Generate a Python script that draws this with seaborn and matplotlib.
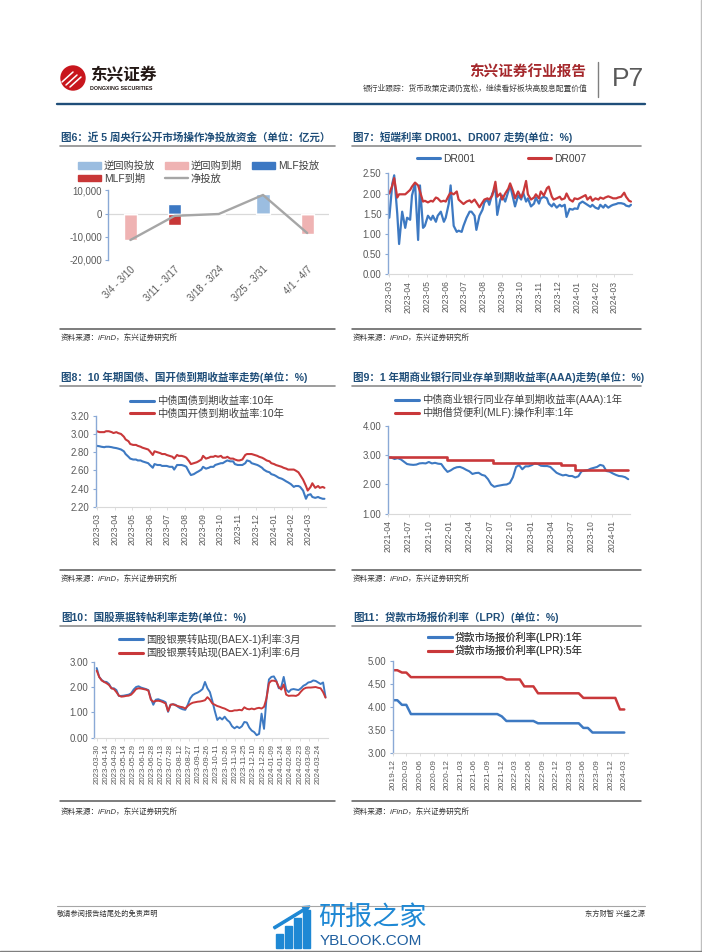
import matplotlib
matplotlib.use("Agg")
import matplotlib.pyplot as plt
import matplotlib.dates as mdates
import matplotlib.ticker as mticker
from matplotlib.lines import Line2D
from matplotlib.patches import Patch, Circle, Rectangle, FancyArrow
import seaborn as sns
import numpy as np
import pandas as pd


# ── 图6 ──────────────────────────────────────────────────────────────────
WEEKS = ["3/4 - 3/10", "3/11 - 3/17", "3/18 - 3/24", "3/25 - 3/31", "4/1 - 4/7"]
RR_INJECT = [0, 0, 0, 8300, 0]            # 逆回购投放
RR_EXPIRE = [-11600, 0, 0, 0, -8700]      # 逆回购到期
MLF_INJECT = [0, 4000, 0, 0, 0]           # MLF投放
MLF_EXPIRE = [0, -5000, 0, 0, 0]          # MLF到期
NET_INJECT = [-11400, -1000, -200, 8000, -8400]

# ── 图7 DR001 / DR007 (every 3rd business day) ──────────────────────────
DR001 = [1.40, 2.25, 2.45, 1.50, 0.75, 1.55, 1.15, 1.40, 1.35, 1.95,
         2.25, 0.85, 2.20, 1.15, 1.20, 1.45, 1.35, 1.45, 1.30, 1.45,
         1.55, 1.30, 1.40, 1.75, 2.20, 1.20, 1.05, 1.08, 1.05, 1.20,
         1.40, 1.55, 1.55, 1.45, 1.10, 1.45, 1.60, 1.78, 1.85, 1.72,
         2.00, 2.12, 1.47, 1.85, 1.95, 1.80, 2.05, 2.20, 1.88, 1.68,
         1.95, 1.85, 2.03, 1.80, 1.88, 1.68, 1.75, 1.90, 1.75, 1.88,
         1.92, 1.88, 1.75, 1.68, 1.75, 1.65, 1.72, 1.68, 1.72, 1.42,
         1.62, 1.60, 1.63, 1.62, 1.75, 1.80, 1.75, 1.72, 1.67, 1.72,
         1.65, 1.62, 1.72, 1.65, 1.72, 1.65, 1.70, 1.72, 1.74, 1.76,
         1.76, 1.74, 1.70, 1.68, 1.72]
DR007 = [2.00, 2.20, 2.38, 1.90, 1.98, 1.98, 1.98, 2.02, 2.09, 2.17,
         2.27, 2.20, 2.05, 1.80, 1.82, 1.78, 1.82, 1.80, 1.90, 1.88,
         1.80, 1.82, 1.80, 1.95, 2.02, 1.98, 2.05, 1.85, 1.78, 1.74,
         1.80, 1.83, 1.78, 1.85, 1.78, 1.66, 1.78, 1.85, 1.88, 1.85,
         1.95, 2.29, 1.92, 2.00, 1.85, 2.00, 2.12, 2.25, 2.05, 1.88,
         2.05, 1.90, 2.00, 2.31, 1.98, 1.85, 1.90, 1.98, 1.88, 2.05,
         1.95, 2.13, 2.17, 1.92, 1.85, 1.88, 1.92, 1.85, 1.88, 2.00,
         1.85, 1.80, 1.88, 1.86, 1.88, 1.92, 1.96, 1.85, 1.92, 1.82,
         1.88, 1.85, 1.90, 1.87, 1.90, 1.93, 1.90, 1.88, 1.88, 1.90,
         1.92, 2.02, 1.92, 1.82, 1.80]
DR_DATES = pd.bdate_range("2023-03-01", periods=len(DR001), freq="3B")

# ── 图8 10年期国债 / 国开债 ────────────────────────────────────────────
CGB10 = [2.87, 2.865, 2.86, 2.855, 2.86, 2.86, 2.855, 2.85, 2.845, 2.84,
         2.83, 2.81, 2.78, 2.75, 2.73, 2.72, 2.72, 2.71, 2.71, 2.70,
         2.69, 2.68, 2.66, 2.63, 2.67, 2.66, 2.66, 2.65, 2.65, 2.65,
         2.64, 2.64, 2.61, 2.66, 2.66, 2.66, 2.65, 2.64, 2.58, 2.55,
         2.56, 2.58, 2.59, 2.61, 2.64, 2.62, 2.63, 2.64, 2.64, 2.66,
         2.67, 2.68, 2.68, 2.70, 2.71, 2.70, 2.70, 2.67, 2.66, 2.66,
         2.66, 2.68, 2.71, 2.70, 2.68, 2.67, 2.66, 2.65, 2.63, 2.61,
         2.59, 2.58, 2.56, 2.55, 2.54, 2.52, 2.51, 2.50, 2.48, 2.47,
         2.45, 2.42, 2.43, 2.43, 2.42, 2.38, 2.29, 2.33, 2.34, 2.31,
         2.30, 2.31, 2.30, 2.29, 2.29]
CDB10 = [3.03, 3.02, 3.02, 3.02, 3.03, 3.03, 3.02, 3.01, 3.02, 3.01,
         3.00, 2.97, 2.94, 2.92, 2.89, 2.88, 2.88, 2.87, 2.86, 2.85,
         2.84, 2.83, 2.81, 2.77, 2.81, 2.80, 2.79, 2.78, 2.78, 2.77,
         2.76, 2.75, 2.73, 2.77, 2.76, 2.76, 2.75, 2.74, 2.70, 2.67,
         2.68, 2.69, 2.70, 2.72, 2.76, 2.73, 2.74, 2.75, 2.75, 2.76,
         2.75, 2.76, 2.74, 2.74, 2.75, 2.73, 2.73, 2.72, 2.71, 2.71,
         2.72, 2.77, 2.78, 2.78, 2.78, 2.77, 2.76, 2.75, 2.74, 2.73,
         2.71, 2.70, 2.68, 2.67, 2.66, 2.65, 2.64, 2.63, 2.62, 2.61,
         2.61, 2.61, 2.60, 2.58, 2.55, 2.50, 2.43, 2.38, 2.42, 2.46,
         2.41, 2.43, 2.41, 2.42, 2.41]
BOND_DATES = pd.bdate_range("2023-03-01", periods=len(CGB10), freq="3B")

# ── 图9 同业存单 / MLF ─────────────────────────────────────────────────
CD_1Y = [2.93, 2.92, 2.87, 2.90, 2.86, 2.78, 2.70, 2.68, 2.67, 2.68,
         2.72, 2.73, 2.72, 2.77, 2.72, 2.74, 2.71, 2.70, 2.55, 2.43,
         2.48, 2.55, 2.59, 2.60, 2.56, 2.50, 2.45, 2.36, 2.39, 2.40,
         2.33, 2.30, 2.18, 2.00, 1.92, 1.95, 1.97, 1.99, 2.00, 2.05,
         2.25, 2.60, 2.66, 2.52, 2.62, 2.62, 2.66, 2.72, 2.70, 2.64,
         2.63, 2.63, 2.60, 2.50, 2.40, 2.35, 2.31, 2.33, 2.29, 2.29,
         2.24, 2.28, 2.45, 2.47, 2.49, 2.54, 2.57, 2.60, 2.67, 2.64,
         2.46, 2.44, 2.38, 2.33, 2.29, 2.28, 2.25, 2.18]
CD_DATES = pd.date_range("2021-04-01", periods=len(CD_1Y), freq="14D")
MLF_DATES = pd.to_datetime(["2021-04-01", "2021-12-20", "2022-07-16",
                            "2023-05-19", "2023-07-19", "2024-03-14"])
MLF_RATE = [2.95, 2.85, 2.75, 2.65, 2.50, 2.50]

# ── 图10 国股银票转贴现 ────────────────────────────────────────────────
BAEX_3M = [2.75, 2.40, 2.28, 2.21, 2.20, 2.12, 1.95, 1.95, 1.88, 1.65,
           1.65, 1.66, 1.68, 1.70, 1.75, 1.90, 2.00, 2.03, 1.98, 1.95,
           1.92, 1.88, 1.55, 1.30, 1.50, 1.52, 1.48, 1.45, 1.40, 1.02,
           1.30, 1.32, 1.30, 1.22, 1.16, 1.12, 1.10, 1.30, 1.55, 1.68,
           1.74, 1.78, 1.84, 1.92, 2.20, 1.95, 1.80, 1.45, 1.05, 0.70,
           0.80, 0.72, 0.83, 0.70, 0.62, 0.45, 0.37, 0.44, 0.38, 0.45,
           0.62, 0.60, 0.40, 0.28, 0.22, 0.10, 0.15, 0.95, 0.35, 1.55,
           2.30, 2.40, 2.42, 2.25, 1.95, 2.00, 2.40, 1.90, 1.80, 1.90,
           1.92, 1.90, 1.88, 1.95, 2.05, 2.10, 2.18, 2.20, 2.26, 2.24,
           2.18, 2.12, 2.18, 1.60]
BAEX_6M = [2.65, 2.40, 2.26, 2.20, 2.15, 2.08, 1.95, 1.92, 1.80, 1.66,
           1.62, 1.63, 1.65, 1.66, 1.70, 1.80, 1.92, 1.95, 1.94, 1.92,
           1.90, 1.86, 1.50, 1.42, 1.45, 1.46, 1.44, 1.40, 1.35, 1.05,
           1.30, 1.32, 1.28, 1.25, 1.22, 1.20, 1.15, 1.25, 1.33, 1.38,
           1.40, 1.42, 1.43, 1.45, 1.48, 1.60, 1.50, 1.35, 1.30, 1.25,
           1.22, 1.18, 1.15, 1.10, 1.05, 1.05, 1.08, 1.08, 1.10, 1.08,
           1.20, 1.14, 1.12, 1.15, 1.12, 1.16, 1.18, 1.15, 1.22, 1.55,
           2.15, 2.25, 2.25, 2.22, 2.00, 1.90, 2.10, 1.70, 1.65, 1.66,
           1.66, 1.65, 1.70, 1.82, 1.92, 1.97, 1.98, 1.98, 1.99, 2.00,
           1.97, 1.95, 1.80, 1.58]
BAEX_DATES = pd.date_range("2023-03-30", periods=len(BAEX_3M), freq="4D")
BAEX_TICKS = pd.date_range("2023-03-30", periods=25, freq="15D")

# ── 图11 LPR (monthly, 2019-12 .. 2024-03) ─────────────────────────────
LPR_1Y = [4.15, 4.15, 4.05, 4.05, 3.85, 3.85, 3.85, 3.85, 3.85, 3.85,
          3.85, 3.85, 3.85, 3.85, 3.85, 3.85, 3.85, 3.85, 3.85, 3.85,
          3.85, 3.85, 3.85, 3.85, 3.80, 3.70, 3.70, 3.70, 3.70, 3.70,
          3.70, 3.70, 3.65, 3.65, 3.65, 3.65, 3.65, 3.65, 3.65, 3.65,
          3.65, 3.65, 3.55, 3.55, 3.45, 3.45, 3.45, 3.45, 3.45, 3.45,
          3.45, 3.45]
LPR_5Y = [4.80, 4.80, 4.75, 4.75, 4.65, 4.65, 4.65, 4.65, 4.65, 4.65,
          4.65, 4.65, 4.65, 4.65, 4.65, 4.65, 4.65, 4.65, 4.65, 4.65,
          4.65, 4.65, 4.65, 4.65, 4.65, 4.60, 4.60, 4.60, 4.60, 4.45,
          4.45, 4.45, 4.30, 4.30, 4.30, 4.30, 4.30, 4.30, 4.30, 4.30,
          4.30, 4.30, 4.20, 4.20, 4.20, 4.20, 4.20, 4.20, 4.20, 4.20,
          3.95, 3.95]
LPR_DATES = pd.date_range("2019-12-01", periods=len(LPR_1Y), freq="MS")


W, H = 702, 952
BLUE = "#3d79c2"
RED = "#c9383a"
SPINE = "#8aa9d6"
TXT = "#595959"
TITLE_C = "#1f4e79"
SOURCE = "资料来源：iFinD，东兴证券研究所"


def px_axes(fig, left, top, right, bottom):
    """Axes placed by page pixel box (y measured from the top)."""
    return fig.add_axes([left / W, 1 - bottom / H, (right - left) / W, (bottom - top) / H])


def style_axes(ax, ylim, ystep, fmt="%.2f", xlabelsize=6.2):
    ax.set_ylim(*ylim)
    ax.set_yticks(np.arange(ylim[0], ylim[1] + 1e-9, ystep))
    ax.yaxis.set_major_formatter(mticker.FormatStrFormatter(fmt))
    for s in ["top", "right"]:
        ax.spines[s].set_visible(False)
    ax.spines["left"].set_color(SPINE)
    ax.spines["left"].set_linewidth(1.0)
    ax.spines["bottom"].set_color("#d9d9d9")
    ax.spines["bottom"].set_linewidth(0.8)
    ax.tick_params(axis="y", length=2.5, width=0.8, color=SPINE,
                   labelsize=6.9, labelcolor=TXT, pad=2, left=True)
    ax.tick_params(axis="x", length=2.5, width=0.6, color="#d9d9d9",
                   labelsize=xlabelsize, labelcolor=TXT, pad=2,
                   labelrotation=90, bottom=True)
    ax.set_xlabel("")
    ax.set_ylabel("")
    ax.patch.set_alpha(0)


def add_legend(page, handles, labels, x, top, ncol=1, colsp=1.0, fs=7.4, hl=2.3, hh=0.7):
    leg = page.legend(handles, labels, loc="upper left", bbox_to_anchor=(x, top),
                      bbox_transform=page.transData, ncol=ncol, frameon=False,
                      fontsize=fs, handlelength=hl, handleheight=hh,
                      handletextpad=0.3, columnspacing=colsp, labelspacing=0.22,
                      borderpad=0, borderaxespad=0, labelcolor="#404040")
    page.add_artist(leg)


def panel_frame(page, x0, x1, title, y_title, y_rule, y_src_rule, y_src):
    page.text(x0 + 1, y_title, title, fontsize=7.6, fontweight="bold",
              color=TITLE_C, va="center")
    page.plot([x0, x1], [y_rule, y_rule], color="#8c8c8c", lw=1.2)
    page.plot([x0, x1], [y_src_rule, y_src_rule], color="#595959", lw=1.1)
    page.text(x0 + 1, y_src, SOURCE, fontsize=5.5, style="italic",
              color="#333333", va="center")


def line(color, lw=1.8):
    return Line2D([0], [0], color=color, lw=lw)


sns.set_theme(style="white")
plt.rcParams["font.family"] = ["Liberation Sans", "Noto Sans CJK SC", "DejaVu Sans"]
plt.rcParams["axes.unicode_minus"] = False

fig = plt.figure(figsize=(W / 100, H / 100), dpi=100)
fig.patch.set_facecolor("white")

page = fig.add_axes([0, 0, 1, 1])
page.set_xlim(0, W)
page.set_ylim(H, 0)
page.set_axis_off()

# ── Header ───────────────────────────────────────────────────────────────
page.add_patch(Circle((73, 78), 12, color="#c8161d"))
for dx, dy in [(-6, 4), (-2, 7), (2, 9)]:
    page.plot([73 + dx - 5, 73 + dx + 6], [78 + dy, 78 + dy - 10], color="white", lw=1.1)
page.text(90, 75, "东兴证券", fontsize=12, fontweight="heavy", color="#231815", va="center")
page.text(90, 89, "DONGXING SECURITIES", fontsize=3.8, fontweight="bold",
          color="#231815", va="center")
page.text(586, 73, "东兴证券行业报告", fontsize=10.5, fontweight="bold",
          color="#a5282c", ha="right", va="center")
page.text(587, 89, "银行业跟踪：货币政策定调仍宽松，继续看好板块高股息配置价值",
          fontsize=5.6, color="#404040", ha="right", va="center")
page.plot([598, 598], [62, 97], color="#7f7f7f", lw=1.0)
page.text(612, 79, "P7", fontsize=19, color="#595959", va="center")
page.plot([57, 645], [104, 104], color=TITLE_C, lw=1.7)

# ── Panel frames ─────────────────────────────────────────────────────────
panel_frame(page, 60, 335, "图6：近 5 周央行公开市场操作净投放资金（单位：亿元）", 137, 146, 329, 338)
panel_frame(page, 352, 641, "图7：短端利率 DR001、DR007 走势(单位：%)", 137, 146, 329, 338)
panel_frame(page, 60, 335, "图8：10 年期国债、国开债到期收益率走势(单位：%)", 377, 386, 570, 579)
panel_frame(page, 352, 641, "图9：1 年期商业银行同业存单到期收益率(AAA)走势(单位：%)", 377, 386, 570, 579)
panel_frame(page, 60, 335, "图10：国股票据转帖利率走势(单位：%)", 617, 626, 801, 812)
panel_frame(page, 352, 641, "图11：贷款市场报价利率（LPR）(单位：%)", 617, 626, 801, 812)

# ── 图6 bars + net line ─────────────────────────────────────────────────
C_RR_IN, C_RR_OUT, C_MLF_IN, C_MLF_OUT, C_NET = "#9bbde0", "#efb3b3", "#3c78c3", "#c83737", "#a6a6a6"
ax6 = px_axes(fig, 108.3, 190.3, 329.3, 260)
pos = np.arange(len(WEEKS))
for vals, c in [(RR_INJECT, C_RR_IN), (RR_EXPIRE, C_RR_OUT),
                (MLF_INJECT, C_MLF_IN), (MLF_EXPIRE, C_MLF_OUT)]:
    sns.barplot(x=pos, y=vals, color=c, width=0.3, saturation=1, ax=ax6)
ax6.axhline(0, color="#d9d9d9", lw=0.9, zorder=0.5)
sns.lineplot(x=pos, y=NET_INJECT, color=C_NET, lw=1.7, ax=ax6)
ax6.set_xlim(-0.5, 4.5)
style_axes(ax6, (-20000, 10000), 10000)
ax6.yaxis.set_major_formatter(mticker.FuncFormatter(lambda v, p: f"{v:,.0f}"))
ax6.spines["bottom"].set_visible(False)
ax6.set_xticks(pos)
ax6.set_xticklabels(WEEKS, rotation=45, ha="right", rotation_mode="anchor", fontsize=6.9)
ax6.tick_params(axis="x", length=0, pad=3, labelrotation=45)
h6 = [Patch(color=C_RR_IN), Patch(color=C_MLF_OUT), Patch(color=C_RR_OUT),
      line(C_NET, 1.7), Patch(color=C_MLF_IN)]
l6 = ["逆回购投放", "MLF到期", "逆回购到期", "净投放", "MLF投放"]
add_legend(page, h6, l6, 78, 161, ncol=3, colsp=1.0, hl=2.2, hh=0.55)

# ── 图7 DR001 / DR007 ───────────────────────────────────────────────────
ax7 = px_axes(fig, 387.7, 173.3, 632, 274.3)
sns.lineplot(x=DR_DATES, y=DR001, color=BLUE, lw=1.6, ax=ax7)
sns.lineplot(x=DR_DATES, y=DR007, color=RED, lw=1.6, ax=ax7)
ax7.set_xlim(pd.Timestamp("2023-02-26 10:00"), pd.Timestamp("2024-03-30 17:00"))
style_axes(ax7, (0, 2.5), 0.5)
ax7.xaxis.set_major_locator(mdates.MonthLocator())
ax7.xaxis.set_major_formatter(mdates.DateFormatter("%Y-%m"))
add_legend(page, [line(BLUE, 2.2), line(RED, 2.2)], ["DR001", "DR007"], 416.7, 154,
           ncol=2, colsp=5.1)

# ── 图8 10Y yields ──────────────────────────────────────────────────────
ax8 = px_axes(fig, 95.7, 415.7, 326, 507)
sns.lineplot(x=BOND_DATES, y=CGB10, color=BLUE, lw=1.5, ax=ax8)
sns.lineplot(x=BOND_DATES, y=CDB10, color=RED, lw=1.5, ax=ax8)
ax8.set_xlim(pd.Timestamp("2023-02-27 06:00"), pd.Timestamp("2024-03-31 16:00"))
style_axes(ax8, (2.2, 3.2), 0.2)
ax8.xaxis.set_major_locator(mdates.MonthLocator())
ax8.xaxis.set_major_formatter(mdates.DateFormatter("%Y-%m"))
add_legend(page, [line(BLUE, 2.2), line(RED, 2.2)],
           ["中债国债到期收益率:10年", "中债国开债到期收益率:10年"], 130, 396)

# ── 图9 CD / MLF ────────────────────────────────────────────────────────
ax9 = px_axes(fig, 387.7, 426, 630, 513.7)
sns.lineplot(x=CD_DATES, y=CD_1Y, color=BLUE, lw=1.5, ax=ax9)
sns.lineplot(x=MLF_DATES, y=MLF_RATE, color=RED, lw=1.9, drawstyle="steps-post", ax=ax9)
ax9.set_xlim(pd.Timestamp("2021-03-29 07:00"), pd.Timestamp("2024-03-22"))
style_axes(ax9, (1.0, 4.0), 1.0)
ax9.xaxis.set_major_locator(mdates.MonthLocator(bymonth=[1, 4, 7, 10]))
ax9.xaxis.set_major_formatter(mdates.DateFormatter("%Y-%m"))
add_legend(page, [line(BLUE, 2.2), line(RED, 2.2)],
           ["中债商业银行同业存单到期收益率(AAA):1年", "中期借贷便利(MLF):操作利率:1年"], 395, 394)

# ── 图10 BAEX ───────────────────────────────────────────────────────────
ax10 = px_axes(fig, 94.3, 661.7, 328, 737.7)
sns.lineplot(x=BAEX_DATES, y=BAEX_3M, color=BLUE, lw=1.4, ax=ax10)
sns.lineplot(x=BAEX_DATES, y=BAEX_6M, color=RED, lw=1.4, ax=ax10)
ax10.set_xlim(pd.Timestamp("2023-03-26 02:00"), pd.Timestamp("2024-04-09"))
style_axes(ax10, (0.0, 3.0), 1.0, xlabelsize=5.7)
ax10.set_xticks(BAEX_TICKS)
ax10.xaxis.set_major_formatter(mdates.DateFormatter("%Y-%m-%d"))
add_legend(page, [line(BLUE, 2.2), line(RED, 2.2)],
           ["国股银票转贴现(BAEX-1)利率:3月", "国股银票转贴现(BAEX-1)利率:6月"], 119.3, 634)

# ── 图11 LPR ────────────────────────────────────────────────────────────
ax11 = px_axes(fig, 392.7, 661, 628, 753.3)
sns.lineplot(x=LPR_DATES, y=LPR_1Y, color=BLUE, lw=1.8, ax=ax11)
sns.lineplot(x=LPR_DATES, y=LPR_5Y, color=RED, lw=1.8, ax=ax11)
ax11.set_xlim(pd.Timestamp("2019-12-01"), pd.Timestamp("2024-03-26"))
style_axes(ax11, (3.0, 5.0), 0.5, xlabelsize=6.0)
ax11.xaxis.set_major_locator(mdates.MonthLocator(bymonth=[3, 6, 9, 12]))
ax11.xaxis.set_major_formatter(mdates.DateFormatter("%Y-%m"))
add_legend(page, [line(BLUE, 2.2), line(RED, 2.2)],
           ["贷款市场报价利率(LPR):1年", "贷款市场报价利率(LPR):5年"], 428.3, 632)

# ── Footer + watermark ───────────────────────────────────────────────────
page.plot([57, 645], [906, 906], color="#a6a6a6", lw=0.8)
page.text(57, 914, "敬请参阅报告结尾处的免责声明", fontsize=5.2, color="#333333", va="center")
page.text(645, 914, "东方财智 兴盛之源", fontsize=5.2, color="#333333", ha="right", va="center")
WM = "#1e88d4"
for bx, bh in [(276, 14), (285, 22), (294, 30), (303, 38)]:
    page.add_patch(Rectangle((bx, 948 - bh), 7, bh, color=WM))
page.add_patch(FancyArrow(274, 928, 36, -22, width=2.2, head_width=7, head_length=7,
                          color=WM, length_includes_head=True))
page.text(318, 918, "研报之家", fontsize=19.5, color=WM, va="center")
page.text(320, 941, "YBLOOK.COM", fontsize=11, color="#1f5f9f", va="center")
page.plot([700.5, 700.5], [0, H], color="#bfbfbf", lw=1.0)
page.plot([0, W], [950.5, 950.5], color="#7f7f7f", lw=1.0)

fig.savefig("out.png", dpi=100)
plt.close(fig)
